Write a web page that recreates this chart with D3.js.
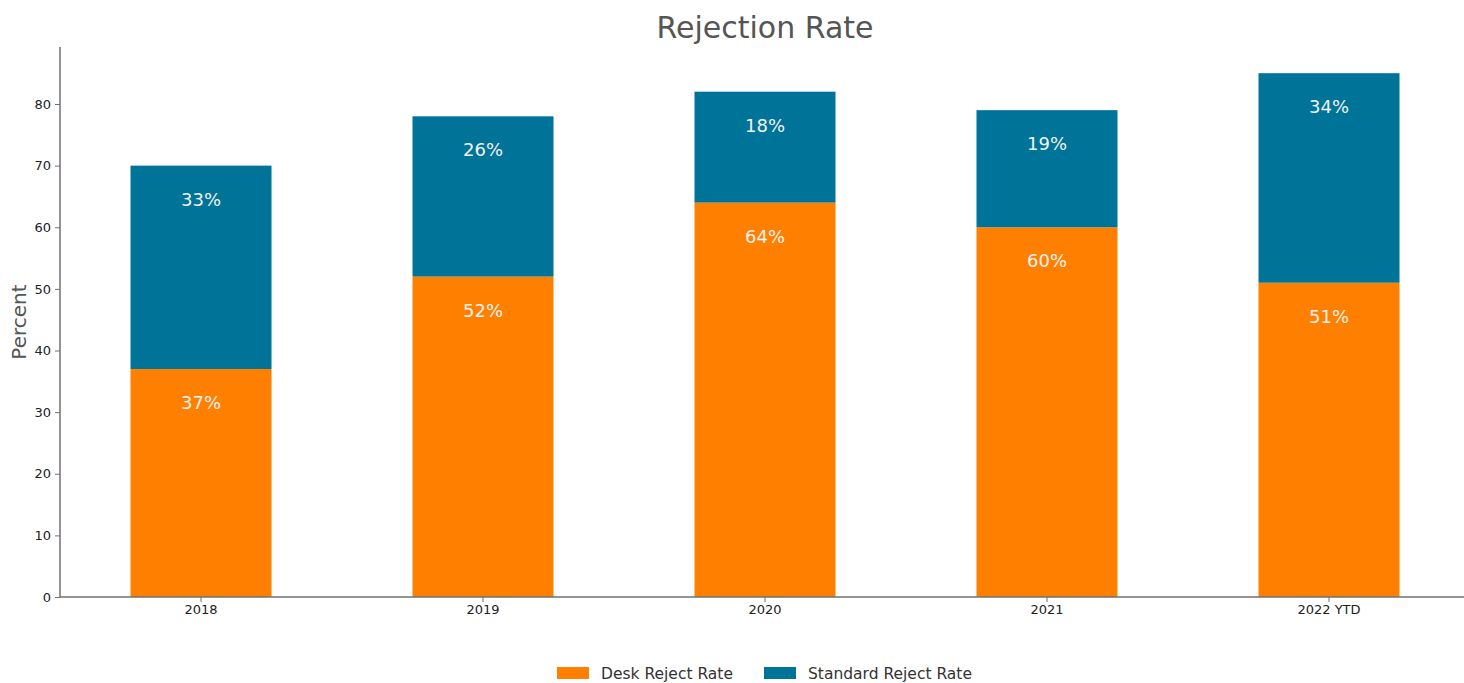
<!DOCTYPE html>
<html>
<head>
<meta charset="utf-8">
<script src="https://cdn.jsdelivr.net/npm/d3@7"></script>
<style>
  body { margin: 0; background: #fff; overflow: hidden; }
  text { font-family: "DejaVu Sans", sans-serif; }
</style>
</head>
<body>
<svg id="chart" width="1464" height="683"></svg>
<script>
// chart data
const years = ["2018", "2019", "2020", "2021", "2022 YTD"];
const deskReject = [37, 52, 64, 60, 51];
const standardReject = [33, 26, 18, 19, 34];
const seriesNames = ["Desk Reject Rate", "Standard Reject Rate"];
const seriesColors = ["#ff8000", "#007398"];
const yTicks = [0, 10, 20, 30, 40, 50, 60, 70, 80];

const svg = d3.select("#chart");

// plot area (runs a bit past the right edge, like the original)
const MARGIN = { left: 60, top: 47, bottom: 597, right: 1470 };

const x = d3.scaleBand()
  .domain(years)
  .range([MARGIN.left, MARGIN.right])
  .paddingInner(0.5)
  .paddingOuter(0.25);

const yMax = d3.max(years, (d, i) => deskReject[i] + standardReject[i]) * 1.05;
const y = d3.scaleLinear()
  .domain([0, yMax])
  .range([MARGIN.bottom, MARGIN.top]);

// stack the two series
const rows = years.map((yr, i) => ({ year: yr, desk: deskReject[i], standard: standardReject[i] }));
const stack = d3.stack().keys(["desk", "standard"]);
const layers = stack(rows);

const g = svg.append("g");

layers.forEach((layer, li) => {
  g.selectAll(".bar" + li)
    .data(layer)
    .join("rect")
    .attr("x", d => x(d.data.year))
    .attr("width", x.bandwidth())
    .attr("y", d => y(d[1]))
    .attr("height", d => y(d[0]) - y(d[1]))
    .attr("fill", seriesColors[li]);

  // percent labels just under the top of each segment
  g.selectAll(".lbl" + li)
    .data(layer)
    .join("text")
    .attr("x", d => x(d.data.year) + x.bandwidth() / 2)
    .attr("y", d => y(d[1]) + 40)
    .attr("text-anchor", "middle")
    .style("font-size", "18px")
    .style("fill", "#f2f2f2")
    .text(d => (d[1] - d[0]) + "%");
});

// axes
const axisColor = "#707070";

const yAxis = svg.append("g")
  .attr("transform", `translate(${MARGIN.left},0)`)
  .call(d3.axisLeft(y).tickValues(yTicks).tickSize(5).tickPadding(4));

const xAxis = svg.append("g")
  .attr("transform", `translate(0,${MARGIN.bottom})`)
  .call(d3.axisBottom(x).tickSize(5).tickPadding(3));

[yAxis, xAxis].forEach(ax => {
  ax.select(".domain").attr("stroke", axisColor).attr("stroke-width", 1.5);
  ax.selectAll(".tick line").attr("stroke", axisColor);
  ax.selectAll(".tick text")
    .style("font-family", "DejaVu Sans, sans-serif")
    .style("font-size", "13px")
    .attr("fill", "#222");
});
// domain path without end caps
yAxis.select(".domain").attr("d", `M0,${MARGIN.bottom}V${MARGIN.top}`);
xAxis.select(".domain").attr("d", `M${MARGIN.left},0H${MARGIN.right}`);

// title
svg.append("text")
  .attr("x", (MARGIN.left + MARGIN.right) / 2)
  .attr("y", 38)
  .attr("text-anchor", "middle")
  .style("font-size", "30px")
  .style("fill", "#555")
  .text("Rejection Rate");

// y label
svg.append("text")
  .attr("transform", `translate(26,${(MARGIN.top + MARGIN.bottom) / 2}) rotate(-90)`)
  .attr("text-anchor", "middle")
  .style("font-size", "20px")
  .style("fill", "#555")
  .text("Percent");

// legend
const legendX = [557, 764];
seriesNames.forEach((name, i) => {
  svg.append("rect")
    .attr("x", legendX[i])
    .attr("y", 667)
    .attr("width", 32)
    .attr("height", 12)
    .attr("fill", seriesColors[i]);
  svg.append("text")
    .attr("x", legendX[i] + 44)
    .attr("y", 679)
    .style("font-size", "15.5px")
    .style("fill", "#333")
    .text(name);
});
</script>
</body>
</html>
